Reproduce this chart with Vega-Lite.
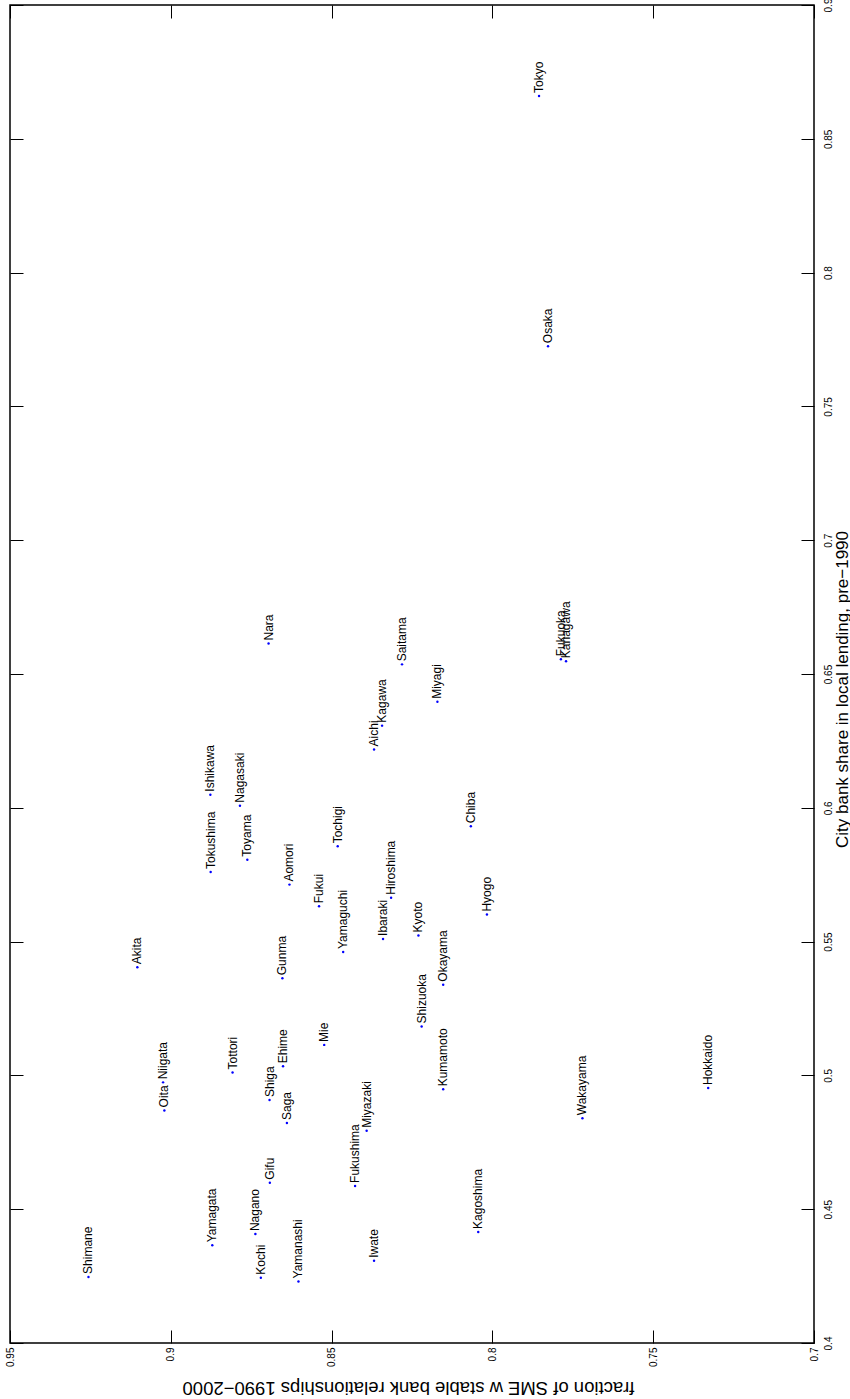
{
  "$schema": "https://vega.github.io/schema/vega-lite/v6.json",
  "width": 804,
  "height": 1338,
  "autosize": {"type": "none"},
  "padding": {"left": 10, "top": 5, "right": 36, "bottom": 56},
  "background": "white",
  "config": {
    "view": {"stroke": "black", "strokeWidth": 1.5},
    "font": "Liberation Sans",
    "axis": {"labelFont": "Liberation Sans", "titleFont": "Liberation Sans", "labelColor": "black", "titleColor": "black", "tickColor": "black", "grid": false, "domain": false, "titleFontWeight": "normal"}
  },
  "data": {"values": [
    {"p": "Tokyo", "f": 0.7855, "c": 0.866},
    {"p": "Osaka", "f": 0.7827, "c": 0.7725},
    {"p": "Fukuoka", "f": 0.7787, "c": 0.6555},
    {"p": "Kanagawa", "f": 0.7771, "c": 0.6548},
    {"p": "Nara", "f": 0.8696, "c": 0.6614},
    {"p": "Saitama", "f": 0.8281, "c": 0.6536},
    {"p": "Miyagi", "f": 0.8171, "c": 0.6396},
    {"p": "Kagawa", "f": 0.8343, "c": 0.6307},
    {"p": "Aichi", "f": 0.8368, "c": 0.6218},
    {"p": "Ishikawa", "f": 0.8877, "c": 0.6049},
    {"p": "Nagasaki", "f": 0.8785, "c": 0.6008},
    {"p": "Chiba", "f": 0.8067, "c": 0.5931},
    {"p": "Tochigi", "f": 0.8481, "c": 0.5856},
    {"p": "Tokushima", "f": 0.8876, "c": 0.576},
    {"p": "Toyama", "f": 0.8762, "c": 0.5806},
    {"p": "Aomori", "f": 0.8631, "c": 0.5713},
    {"p": "Hiroshima", "f": 0.8315, "c": 0.5664},
    {"p": "Fukui", "f": 0.8539, "c": 0.5632},
    {"p": "Hyogo", "f": 0.8017, "c": 0.5601},
    {"p": "Ibaraki", "f": 0.834, "c": 0.551},
    {"p": "Kyoto", "f": 0.823, "c": 0.5523},
    {"p": "Yamaguchi", "f": 0.8464, "c": 0.5461},
    {"p": "Akita", "f": 0.9104, "c": 0.5404},
    {"p": "Gunma", "f": 0.8653, "c": 0.5363},
    {"p": "Okayama", "f": 0.8153, "c": 0.5339},
    {"p": "Shizuoka", "f": 0.822, "c": 0.5183},
    {"p": "Mie", "f": 0.8523, "c": 0.5114},
    {"p": "Ehime", "f": 0.8651, "c": 0.5034},
    {"p": "Tottori", "f": 0.8808, "c": 0.5011},
    {"p": "Niigata", "f": 0.9024, "c": 0.4974},
    {"p": "Kumamoto", "f": 0.8153, "c": 0.4948},
    {"p": "Hokkaido", "f": 0.7329, "c": 0.4953},
    {"p": "Shiga", "f": 0.8693, "c": 0.4908},
    {"p": "Oita", "f": 0.902, "c": 0.4869},
    {"p": "Wakayama", "f": 0.772, "c": 0.484},
    {"p": "Saga", "f": 0.8639, "c": 0.4822},
    {"p": "Miyazaki", "f": 0.8391, "c": 0.4793},
    {"p": "Gifu", "f": 0.8692, "c": 0.4599},
    {"p": "Fukushima", "f": 0.8427, "c": 0.4587},
    {"p": "Kagoshima", "f": 0.8044, "c": 0.4415},
    {"p": "Nagano", "f": 0.8737, "c": 0.4407},
    {"p": "Yamagata", "f": 0.8871, "c": 0.4365},
    {"p": "Iwate", "f": 0.8368, "c": 0.4307},
    {"p": "Shimane", "f": 0.9256, "c": 0.4247},
    {"p": "Kochi", "f": 0.872, "c": 0.4244},
    {"p": "Yamanashi", "f": 0.8603, "c": 0.423}
  ]},
  "resolve": {"axis": {"x": "independent", "y": "independent"}},
  "layer": [
    {
      "mark": {"type": "point", "filled": true, "color": "#0000ff", "size": 6, "opacity": 1},
      "encoding": {
        "x": {"field": "f", "type": "quantitative",
          "scale": {"domain": [0.7, 0.95], "reverse": true, "nice": false, "zero": false},
          "axis": {"orient": "bottom", "values": [0.7, 0.75, 0.8, 0.85, 0.9, 0.95], "format": "~g",
            "labelAngle": 270, "labelAlign": "right", "labelBaseline": "middle", "labelFontSize": 10,
            "tickSize": -13, "labelPadding": 17, "labelFlush": false, "labelOverlap": false, "labelBound": false,
            "title": "fraction of SME w stable bank relationships 1990−2000", "titleAngle": 180,
            "titleBaseline": "bottom", "titleAlign": "center", "titleFontSize": 18.5, "titleX": 398, "titleY": 34}},
        "y": {"field": "c", "type": "quantitative",
          "scale": {"domain": [0.4, 0.9], "nice": false, "zero": false},
          "axis": {"orient": "right", "values": [0.4, 0.45, 0.5, 0.55, 0.6, 0.65, 0.7, 0.75, 0.8, 0.85, 0.9], "format": "~g",
            "labelAngle": 270, "labelAlign": "center", "labelBaseline": "top", "labelFontSize": 10,
            "tickSize": -13, "labelPadding": 22, "labelFlush": false, "labelOverlap": false, "labelBound": false,
            "title": "City bank share in local lending, pre−1990", "titleAngle": 270,
            "titleBaseline": "top", "titleAlign": "center", "titleFontSize": 17, "titleX": 20, "titleY": 684}}
      }
    },
    {
      "mark": {"type": "text", "angle": 270, "align": "left", "baseline": "middle", "dx": 3, "fontSize": 12, "font": "Liberation Sans", "color": "black"},
      "encoding": {
        "x": {"field": "f", "type": "quantitative", "axis": null},
        "y": {"field": "c", "type": "quantitative", "axis": null},
        "text": {"field": "p", "type": "nominal"}
      }
    },
    {
      "mark": {"type": "point", "opacity": 0},
      "encoding": {
        "x": {"field": "f", "type": "quantitative",
          "axis": {"orient": "top", "values": [0.7, 0.75, 0.8, 0.85, 0.9, 0.95], "labels": false, "tickSize": -13, "title": null}},
        "y": {"field": "c", "type": "quantitative",
          "axis": {"orient": "left", "values": [0.4, 0.45, 0.5, 0.55, 0.6, 0.65, 0.7, 0.75, 0.8, 0.85, 0.9], "labels": false, "tickSize": -13, "title": null}}
      }
    }
  ]
}
